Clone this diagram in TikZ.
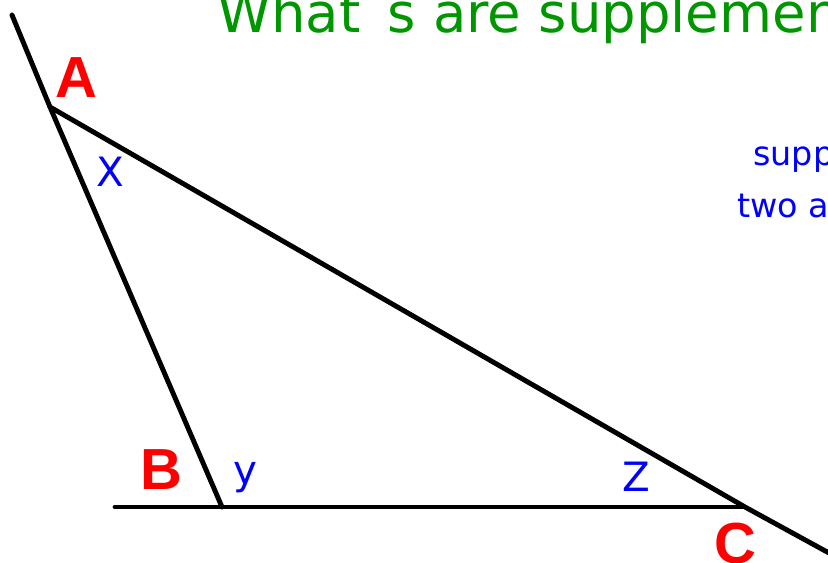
\documentclass[tikz,border=0pt]{standalone}
\usepackage{fontspec}
\usepackage{xcolor}
\newfontfamily\vertexfont{Liberation Sans}
\newfontfamily\handfont{DejaVu Sans}
\definecolor{titleGreen}{RGB}{0, 150, 0}
\definecolor{angleBlue}{RGB}{0, 0, 255}
\definecolor{vertexRed}{RGB}{255, 0, 0}

\begin{document}
\begin{tikzpicture}[
        x=0.02cm, y=-0.02cm,
        side/.style={line width=2.8pt, black, line cap=round},
        vertex/.style={inner sep=0pt, text=vertexRed, font=\vertexfont\bfseries\fontsize{33}{36}\selectfont},
        angle/.style={inner sep=0pt, text=angleBlue, font=\handfont\fontsize{23}{26}\selectfont},
        title/.style={inner sep=0pt, anchor=base west, text=titleGreen, font=\handfont\fontsize{31}{34}\selectfont},
        note/.style={inner sep=0pt, anchor=base west, text=angleBlue, font=\handfont\fontsize{19}{22}\selectfont}
    ]
        \useasboundingbox (0,0) rectangle (828,562);
        \clip (0,0) rectangle (828,562);

        % Corners and free ends
        \coordinate (A) at (50,107);
        \coordinate (B) at (222,507);
        \coordinate (C) at (745,507);
        \coordinate (topEnd) at (12,15);
        \coordinate (baseEnd) at (115,507);
        \coordinate (slopeEnd) at (840,559);

        % Sides
        \draw[side] (topEnd) -- (A) -- (B);
        \draw[side] (baseEnd) -- (B) -- (C);
        \draw[side] (A) -- (C) -- (slopeEnd);

        % Labels
        \node[vertex] (labelA) at (76,78) {A};
        \node[vertex] (labelB) at (161,470) {B};
        \node[vertex] (labelC) at (735,544) {C};
        \node[angle] (angleX) at (110,172) {X};
        \node[angle] (angleY) at (245,478) {y};
        \node[angle] (angleZ) at (636,477) {Z};

        % Cut-off text
        \node[title] (heading) at (217,32) {What`s are supplementary};
        \node[note] (noteOne) at (753,165) {supplementary};
        \node[note] (noteTwo) at (737,217) {two angles};
    \end{tikzpicture}
\end{document}
